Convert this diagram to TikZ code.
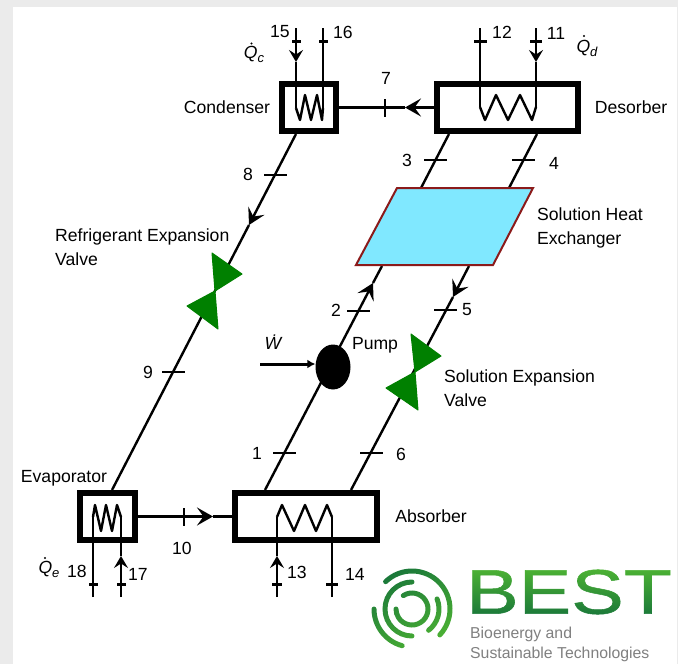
\documentclass[tikz,border=0pt]{standalone}
\usepackage{fontspec}
\setmainfont{Liberation Sans}
\newfontfamily\bestfont[FakeBold=0.8]{Liberation Sans}
\usetikzlibrary{arrows.meta}
\usetikzlibrary{shapes.geometric}
\definecolor{panelgrey}{HTML}{EBEBEB}
\definecolor{hxblue}{HTML}{80E8FF}
\definecolor{hxred}{HTML}{8B1A1A}
\definecolor{valvegreen}{HTML}{008000}
\definecolor{bestdark}{HTML}{17743A}
\definecolor{bestlight}{HTML}{4FB533}
\definecolor{bestgrey}{HTML}{808080}
\newcommand{\qheat}[1]{{\itshape Q}\raisebox{-4pt}{\fontsize{13}{13}\selectfont\itshape #1}}
\tikzset{
  pipe/.style={draw=black, line width=2.4pt, line join=round},
  flow/.style={pipe, -{Stealth[length=16pt, width=18pt, inset=6.5pt]}},
  flowup/.style={pipe, -{Stealth[length=12pt, width=14pt, inset=4.5pt]}},
  unit/.style={draw=black, line width=6pt, fill=white, inner sep=0, minimum height=47},
  tickh/.style={fill=black, inner sep=0, minimum width=23, minimum height=2.6},
  ticks/.style={fill=black, inner sep=0, minimum width=#1, minimum height=3},
  tickv/.style={fill=black, inner sep=0, minimum width=2.6, minimum height=18},
  lbl/.style={inner sep=0, font=\fontsize{17.6}{21}\selectfont, align=left},
  valve/.style={fill=valvegreen, draw=valvegreen, line width=1pt, line join=round},
}
\begin{document}
\begin{tikzpicture}[x=1pt, y=-1pt]
\useasboundingbox (0,0) rectangle (678,664);
% Panel
\fill [panelgrey] (0,0) rectangle (678,664);
\fill [white] (13,7) rectangle (677,664);
% Ends of the lines
\coordinate (cond8) at (296,134);
\coordinate (evap9) at (112,490);
\coordinate (des3) at (449,134);
\coordinate (des4) at (537,134);
\coordinate (hx3) at (421,188);
\coordinate (hx4) at (509,188);
\coordinate (hx2) at (382,266);
\coordinate (hx5) at (469,266);
\coordinate (abs1) at (265,490);
\coordinate (abs6) at (351,490);
\coordinate (arr8) at (249,225);
\coordinate (arr2) at (373,283);
\coordinate (arr5) at (453,297);
\coordinate (arr7) at (405,107.5);
\coordinate (arr10) at (213,516.5);
% Units
\node [unit, minimum width=54] (cond) at (309,107.5) {};
\node [unit, minimum width=141] (des) at (507.5,107.5) {};
\node [unit, minimum width=55] (evap) at (107.5,516.5) {};
\node [unit, minimum width=142] (abs) at (306,516.5) {};
% Main lines
\draw [flow] (cond8) -- (arr8);
\draw [pipe] (arr8) -- (evap9);
\draw [pipe] (des3) -- (hx3);
\draw [pipe] (des4) -- (hx4);
\draw [flow] (abs1) -- (arr2);
\draw [pipe] (arr2) -- (hx2);
\draw [flow] (hx5) -- (arr5);
\draw [pipe] (arr5) -- (abs6);
\draw [flow] (des.west) -- (arr7);
\draw [pipe] (arr7) -- (cond.east);
\draw [flow] (evap.east) -- (arr10);
\draw [pipe] (arr10) -- (abs.west);
% Heat exchanger
\draw [fill=hxblue, draw=hxred, line width=2pt] (397,188) -- (533,188) -- (493,265) -- (356,265) -- cycle;
% Pump
\node [ellipse, fill=black, minimum width=35, minimum height=45, inner sep=0] (pump) at (333,367) {};
\coordinate (wstart) at (260,364);
\draw [pipe, line width=3pt, -{Latex[length=8pt, width=9pt]}] (wstart) -- (pump.west |- wstart);
% Valves
\draw [valve] (212,253) -- (242,274) -- (215,291) -- cycle;
\draw [valve] (215,291) -- (187,306) -- (218,329) -- cycle;
\draw [valve] (411,334) -- (441,356) -- (415,372) -- cycle;
\draw [valve] (415,372) -- (386,388) -- (418,410) -- cycle;
% Coils
\draw [pipe] (296,108) -- (300,120) -- (305,95) -- (311,120) -- (317,95) -- (322,120) -- (323,108);
\draw [pipe] (480,107) -- (485,120) -- (496,95) -- (508,120) -- (520,95) -- (532,120) -- (536,107);
\draw [pipe] (93,517) -- (95,505) -- (101,531) -- (106,505) -- (112,531) -- (117,505) -- (121,517);
\draw [pipe] (277,517) -- (282,505) -- (294,531) -- (305,505) -- (316,531) -- (327,505) -- (332,517);
% Stubs on top
\coordinate (top15) at (296,28);
\coordinate (arr15) at (296,62);
\coordinate (in15) at (296,108);
\coordinate (top16) at (323,28);
\coordinate (in16) at (323,108);
\coordinate (top12) at (480,28);
\coordinate (in12) at (480,107);
\coordinate (top11) at (536,28);
\coordinate (arr11) at (536,62);
\coordinate (in11) at (536,107);
\draw [flowup] (top15) -- (arr15);
\draw [pipe] (arr15) -- (in15);
\draw [pipe] (top16) -- (in16);
\draw [pipe] (top12) -- (in12);
\draw [flowup] (top11) -- (arr11);
\draw [pipe] (arr11) -- (in11);
% Stubs below
\coordinate (bot18) at (93,597);
\coordinate (in18) at (93,517);
\coordinate (bot17) at (121,597);
\coordinate (arr17) at (121,556);
\coordinate (in17) at (121,517);
\coordinate (bot13) at (277,597);
\coordinate (arr13) at (277,556);
\coordinate (in13) at (277,517);
\coordinate (bot14) at (332,597);
\coordinate (in14) at (332,517);
\draw [pipe] (bot18) -- (in18);
\draw [flowup] (bot17) -- (arr17);
\draw [pipe] (arr17) -- (in17);
\draw [flowup] (bot13) -- (arr13);
\draw [pipe] (arr13) -- (in13);
\draw [pipe] (bot14) -- (in14);
% Ticks
\node [tickh] (t8) at (275,175) {};
\node [tickh] (t9) at (173.5,372) {};
\node [tickh] (t3) at (435.5,160) {};
\node [tickh] (t4) at (523,160) {};
\node [tickh] (t2) at (358.5,311) {};
\node [tickh] (t5) at (445.5,310) {};
\node [tickh] (t1) at (284,453) {};
\node [tickh] (t6) at (371,453) {};
\node [tickv] (t7) at (385,107.5) {};
\node [tickv] (t10) at (184,516.5) {};
\foreach \tx/\ty/\tw/\tn in {296/41/9/t15, 323/41/9/t16, 480/41/13/t12, 536/41/12/t11, 93/584/9/t18, 121/584/9/t17, 277/584/10/t13, 332/584/12/t14}
  \node [ticks=\tw] (\tn) at (\tx,\ty) {};
% Numbers
\node [lbl] (n1) at (257,453) {1};
\node [lbl] (n2) at (336,310) {2};
\node [lbl] (n3) at (407,160) {3};
\node [lbl] (n4) at (554,163) {4};
\node [lbl] (n5) at (467,310) {5};
\node [lbl] (n6) at (401,454) {6};
\node [lbl] (n7) at (386,78) {7};
\node [lbl] (n8) at (248,174) {8};
\node [lbl] (n9) at (148,372) {9};
\node [lbl] (n10) at (182,548) {10};
\node [lbl] (n11) at (556,33) {11};
\node [lbl] (n12) at (502,32) {12};
\node [lbl] (n13) at (297,572) {13};
\node [lbl] (n14) at (355,574) {14};
\node [lbl] (n15) at (280,32) {15};
\node [lbl] (n16) at (343,32) {16};
\node [lbl] (n17) at (138,574) {17};
\node [lbl] (n18) at (77,571) {18};
% Names
\node [lbl] (condname) at (227,107) {Condenser};
\node [lbl] (desname) at (631,107) {Desorber};
\node [lbl] (evapname) at (64,478) {Evaporator};
\node [lbl] (absname) at (431,516) {Absorber};
\node [lbl] (pumpname) at (375,345) {Pump};
\node [lbl, anchor=west] (hxname) at (537,228) {Solution Heat\\[3pt]Exchanger};
\node [lbl, anchor=west] (rvname) at (55,247) {Refrigerant Expansion\\[3pt]Valve};
\node [lbl, anchor=west] (svname) at (444,388) {Solution Expansion\\[3pt]Valve};
% Heat flows
\node [lbl] (qc) at (254,54.5) {\qheat{c}};
\node [lbl] (qd) at (587,48.5) {\qheat{d}};
\node [lbl] (qe) at (49,569) {\qheat{e}};
\fill (251.5,43.5) circle (1.2);
\fill (584,36) circle (1.2);
\fill (45,558) circle (1.2);
\node [lbl] (wdot) at (273,342) {\itshape Ẇ};
% Logo
\begin{scope}[shift={(412,609)}, y=1pt, line width=5pt, line cap=round]
\draw (134:38) arc [start angle=134, end angle=-43, radius=38];
\draw (180:38) arc [start angle=180, end angle=255, radius=38];
\draw (90:27) arc [start angle=90, end angle=270, radius=27];
\draw (22:27) arc [start angle=22, end angle=-52, radius=27];
\draw (123:16) arc [start angle=123, end angle=-180, radius=16];
\end{scope}
\node [inner sep=0, anchor=west, font=\bestfont\fontsize{63}{63}\selectfont, xscale=1.25] (best) at (466,592) {BEST};
\begin{scope}[blend mode=screen]
\shade [left color=bestdark, right color=bestlight, shading angle=30] (366,563) rectangle (458,655);
\shade [top color=bestlight, bottom color=bestdark] (462,566) rectangle (677,619);
\end{scope}
\node [inner sep=0, anchor=west, text=bestgrey, font=\fontsize{15.8}{19}\selectfont] (bio) at (470,634) {Bioenergy and};
\node [inner sep=0, anchor=west, text=bestgrey, font=\fontsize{15.8}{19}\selectfont] (sus) at (470,654) {Sustainable Technologies};
\end{tikzpicture}
\end{document}
